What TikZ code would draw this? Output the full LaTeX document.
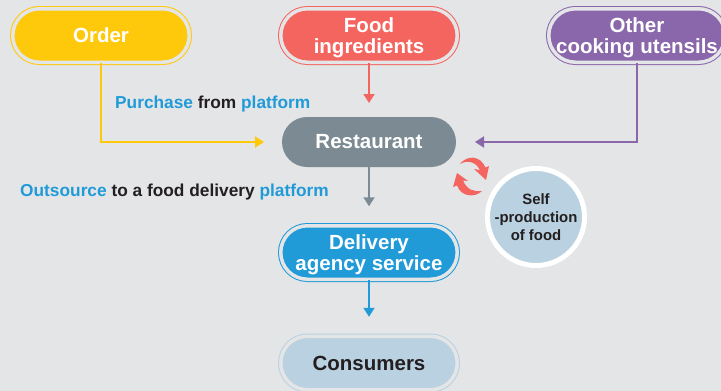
\documentclass[tikz,border=0pt]{standalone}
\usepackage{fontspec}
\setmainfont{Liberation Sans}
\usetikzlibrary{arrows.meta}
\definecolor{bgcol}{HTML}{E4E5E7}
\definecolor{ordercol}{HTML}{FFC90B}
\definecolor{foodcol}{HTML}{F4655F}
\definecolor{toolcol}{HTML}{8A67AB}
\definecolor{restcol}{HTML}{7C8B93}
\definecolor{delivcol}{HTML}{219AD8}
\definecolor{conscol}{HTML}{B9D1E0}
\definecolor{inkcol}{HTML}{231F20}
\tikzset{
	pill/.style={fill=#1,draw=#1,double=bgcol,double distance=3.5pt,line width=1pt,rounded corners=26.7pt,minimum width=176.5pt,minimum height=53.5pt,inner sep=0pt,align=center,text=white,font=\fontsize{20.5}{21}\selectfont\bfseries},
	flow/.style={draw=#1,line width=1.8pt,-{Triangle[length=9pt,width=11pt]}},
	caption/.style={font=\fontsize{17.3}{18}\selectfont\bfseries,text=inkcol,inner sep=0pt}
}
\newcommand{\bluetxt}[1]{\textcolor{delivcol}{#1}}
\begin{document}
\begin{tikzpicture}[x=1pt,y=-1pt]
	\fill[bgcol] (0,0) rectangle (721,391);
	\useasboundingbox (0,0) rectangle (721,391);
	\node[pill=ordercol] (order) at (101,35.5) {Order};
	\node[pill=foodcol,text depth=0pt] (food) at (369,35.5) {Food\\ingredients};
	\node[pill=toolcol,text depth=0pt] (tools) at (637,35.5) {Other\\cooking utensils};
	\node[pill=restcol,double=restcol,draw=none,line width=0pt,double distance=0pt,minimum width=174pt,minimum height=50pt,rounded corners=25pt] (rest) at (369,142) {Restaurant};
	\node[pill=delivcol,text depth=0pt] (deliv) at (369,252.5) {Delivery\\agency service};
	\node[pill=conscol,text=inkcol] (cons) at (369,363) {Consumers};
	\node[circle,fill=conscol,draw=white,line width=5pt,minimum size=97pt,inner sep=0pt,align=center,text=inkcol,font=\fontsize{14.9}{18}\selectfont\bfseries] (self) at (536,217) {Self\\-production\\of food};
	\node[caption,anchor=west] (buy) at (115,104) {\bluetxt{Purchase} from \bluetxt{platform}};
	\node[caption,anchor=west] (out) at (20,192) {\bluetxt{Outsource} to a food delivery \bluetxt{platform}};
	\draw[flow=ordercol,shorten >=18pt] (order.south) |- (rest.west);
	\draw[flow=foodcol,shorten >=14pt] (food.south) -- (rest.north);
	\draw[flow=toolcol,shorten >=19pt] (tools.south) |- (rest.east);
	\draw[flow=restcol,shorten >=19pt] (rest.south) -- (deliv.north);
	\draw[flow=delivcol,shorten >=19pt] (deliv.south) -- (cons.north);
	% the two turning arrows
	\fill[foodcol] (460,164) .. controls (467,160) and (475,161) .. (480,170) -- (474,169) -- (486,180) -- (489,166) -- (485.5,167.5) .. controls (480,155) and (467,155) .. (460,164) -- cycle;
	\fill[foodcol] (482,191) .. controls (474,192) and (467,190) .. (463,180.5) -- (468,181) -- (457,173) -- (453,187) -- (457,185.5) .. controls (461,197) and (475,198) .. (482,191) -- cycle;
\end{tikzpicture}
\end{document}
